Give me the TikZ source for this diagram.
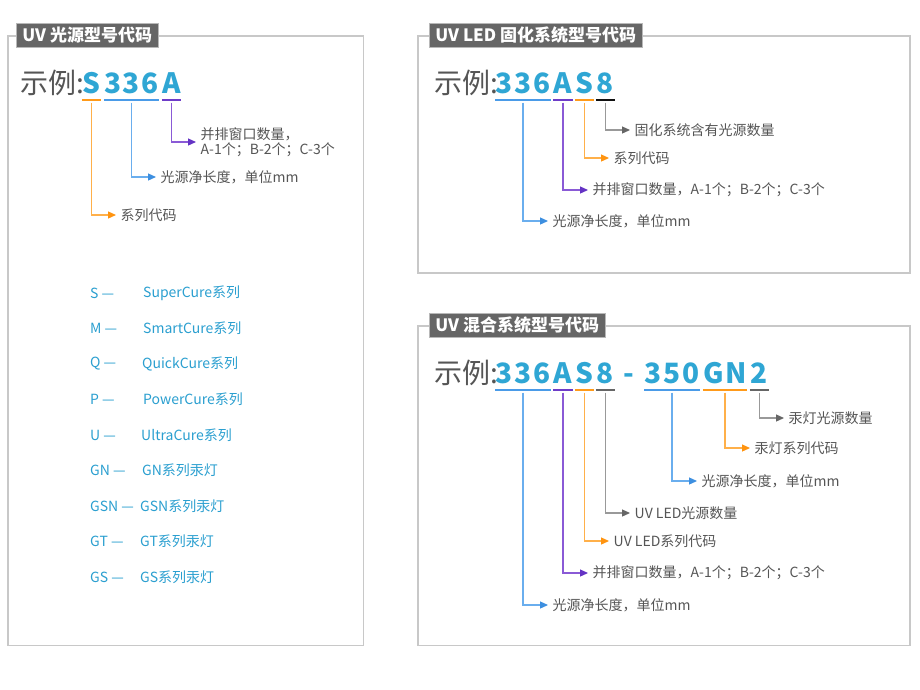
\documentclass[tikz,border=0pt]{standalone}
\usepackage{fontspec}
\setmainfont{Noto Sans CJK SC}
\usetikzlibrary{arrows.meta}
\definecolor{boxgray}{HTML}{C8C8C8}
\definecolor{tabgray}{HTML}{666666}
\definecolor{tabedge}{HTML}{B8B8B8}
\definecolor{exgray}{HTML}{555555}
\definecolor{lblgray}{HTML}{555555}
\definecolor{codeblue}{HTML}{2FA6D4}
\definecolor{legblue}{HTML}{2A9FD0}
\definecolor{ublue}{HTML}{4A9BE8}
\definecolor{lblue}{HTML}{6AAEEE}
\definecolor{ablue}{HTML}{3D8FE0}
\definecolor{upurple}{HTML}{6E3CC8}
\definecolor{lpurple}{HTML}{8A5AD6}
\definecolor{apurple}{HTML}{6433C4}
\definecolor{uorange}{HTML}{FF9A1A}
\definecolor{lorange}{HTML}{FFB04A}
\definecolor{aorange}{HTML}{FF9410}
\definecolor{ugray}{HTML}{666666}
\definecolor{lgray}{HTML}{999999}
\definecolor{agray}{HTML}{666666}
\definecolor{ublack}{HTML}{111111}
\newcommand{\lsp}{\kern1.8pt}
\begin{document}
\begin{tikzpicture}[x=1pt,y=-1pt,
  panelbox/.style={draw=boxgray, line width=1.2pt},
  tabnode/.style={fill=tabgray, draw=tabedge, line width=0.8pt, text=white,
    font=\fontsize{17}{17}\selectfont\bfseries, inner xsep=6pt, inner ysep=0pt,
    minimum height=24pt, anchor=west},
  exlbl/.style={text=exgray, font=\fontsize{28}{28}\selectfont, inner sep=0pt, anchor=base west},
  codegrp/.style={text=codeblue, font=\fontsize{28}{28}\selectfont\bfseries,
    inner xsep=0pt, inner ysep=0pt, text height=21pt, text depth=0pt,
    anchor=base, minimum width=#1},
  uline/.style={draw=#1, line width=1.6pt},
  lbl/.style={text=lblgray, font=\fontsize{14}{15}\selectfont, inner xsep=4.5pt,
    inner ysep=0pt, anchor=west, align=left},
  leg/.style={text=legblue, font=\fontsize{14}{14}\selectfont, inner sep=0pt, anchor=west},
  conn/.style 2 args={draw=#1, line width=1.2pt,
    -{Triangle[length=8pt,width=7pt,color=#2]}}
]
\useasboundingbox (0,0) rectangle (920,689);
\fill[white] (0,0) rectangle (920,689);

% ---------- panel frames ----------
\draw[panelbox] (8,36) rectangle (363.5,645.5);
\draw[panelbox] (418,36) rectangle (910,273);
\draw[panelbox] (418,326) rectangle (910,645.5);

\node[tabnode] (t1) at (16,35) {UV 光源型号代码};
\node[tabnode] (t2) at (429,35) {UV LED 固化系统型号代码};
\node[tabnode] (t3) at (429,325) {UV 混合系统型号代码};

% ---------- panel 1 ----------
\node[exlbl] (e1) at (20,93.5) {示例:};
\node[codegrp=19pt] (a1) at (91.5,93.5) {S};
\node[codegrp=53pt] (a2) at (131.5,93.5) {3\lsp 3\lsp 6};
\node[codegrp=19pt] (a3) at (171.5,93.5) {A};
\draw[uline=uorange] ([yshift=-6.5pt]a1.south west) -- ([yshift=-6.5pt]a1.south east);
\draw[uline=ublue] ([yshift=-6.5pt]a2.south west) -- ([yshift=-6.5pt]a2.south east);
\draw[uline=upurple] ([yshift=-6.5pt]a3.south west) -- ([yshift=-6.5pt]a3.south east);

\node[lbl] (al3) at (196,142) {并排窗口数量，\\A-1个；B-2个；C-3个};
\node[lbl] (al2) at (156,177) {光源净长度，单位mm};
\node[lbl] (al1) at (116,215) {系列代码};
\draw[conn={lpurple}{apurple}] ([yshift=-9pt]a3.south) |- (al3.west);
\draw[conn={lblue}{ablue}] ([yshift=-9pt]a2.south) |- (al2.west);
\draw[conn={lorange}{aorange}] ([yshift=-9pt]a1.south) |- (al1.west);

% legend
\node[leg] (k1) at (90,293) {S —};   \node[leg] (v1) at (143,293) {SuperCure系列};
\node[leg] (k2) at (90,328) {M —};   \node[leg] (v2) at (143,328) {SmartCure系列};
\node[leg] (k3) at (90,364) {Q —};   \node[leg] (v3) at (142,364) {QuickCure系列};
\node[leg] (k4) at (90,399) {P —};   \node[leg] (v4) at (143,399) {PowerCure系列};
\node[leg] (k5) at (90,435) {U —};   \node[leg] (v5) at (141,435) {UltraCure系列};
\node[leg] (k6) at (90,470) {GN —};  \node[leg] (v6) at (142,470) {GN系列汞灯};
\node[leg] (k7) at (90,506) {GSN —}; \node[leg] (v7) at (140,506) {GSN系列汞灯};
\node[leg] (k8) at (90,541) {GT —};  \node[leg] (v8) at (140,541) {GT系列汞灯};
\node[leg] (k9) at (90,577) {GS —};  \node[leg] (v9) at (140,577) {GS系列汞灯};

% ---------- panel 2 ----------
\node[exlbl] (e2) at (434,93.5) {示例:};
\node[codegrp=51.5pt] (b1) at (523,93.5) {3\lsp 3\lsp 6};
\node[codegrp=20pt] (b2) at (563,93.5) {A};
\node[codegrp=19pt] (b3) at (584.5,93.5) {S};
\node[codegrp=19pt] (b4) at (605.5,93.5) {8};
\draw[uline=ublue] ([yshift=-6.5pt]b1.south west) -- ([yshift=-6.5pt]b1.south east);
\draw[uline=upurple] ([yshift=-6.5pt]b2.south west) -- ([yshift=-6.5pt]b2.south east);
\draw[uline=uorange] ([yshift=-6.5pt]b3.south west) -- ([yshift=-6.5pt]b3.south east);
\draw[uline=ublack] ([yshift=-6.5pt]b4.south west) -- ([yshift=-6.5pt]b4.south east);

\node[lbl] (bl4) at (630,130) {固化系统含有光源数量};
\node[lbl] (bl3) at (609,158) {系列代码};
\node[lbl] (bl2) at (588,190) {并排窗口数量，A-1个；B-2个；C-3个};
\node[lbl] (bl1) at (548,221) {光源净长度，单位mm};
\draw[conn={lgray}{agray}] ([yshift=-9pt]b4.south) |- (bl4.west);
\draw[conn={lorange}{aorange}] ([yshift=-9pt]b3.south) |- (bl3.west);
\draw[conn={lpurple}{apurple}] ([yshift=-9pt]b2.south) |- (bl2.west);
\draw[conn={lblue}{ablue}] ([yshift=-9pt]b1.south) |- (bl1.west);

% ---------- panel 3 ----------
\node[exlbl] (e3) at (434,383.5) {示例:};
\node[codegrp=51.5pt] (c1) at (523,383.5) {3\lsp 3\lsp 6};
\node[codegrp=20pt] (c2) at (563,383.5) {A};
\node[codegrp=19pt] (c3) at (584.5,383.5) {S};
\node[codegrp=19pt] (c4) at (605.5,383.5) {8};
\node[codegrp=8pt] (cd) at (629,383.5) {-};
\node[codegrp=52pt] (c5) at (672,383.5) {3\lsp 5\lsp 0};
\node[codegrp=40pt] (c6) at (725,383.5) {G\lsp N};
\node[codegrp=19pt] (c7) at (759.5,383.5) {2};
\draw[uline=ublue] ([yshift=-6.5pt]c1.south west) -- ([yshift=-6.5pt]c1.south east);
\draw[uline=upurple] ([yshift=-6.5pt]c2.south west) -- ([yshift=-6.5pt]c2.south east);
\draw[uline=uorange] ([yshift=-6.5pt]c3.south west) -- ([yshift=-6.5pt]c3.south east);
\draw[uline=ugray] ([yshift=-6.5pt]c4.south west) -- ([yshift=-6.5pt]c4.south east);
\draw[uline=ublue] ([yshift=-6.5pt]c5.south west) -- ([yshift=-6.5pt]c5.south east);
\draw[uline=uorange] ([yshift=-6.5pt]c6.south west) -- ([yshift=-6.5pt]c6.south east);
\draw[uline=ugray] ([yshift=-6.5pt]c7.south west) -- ([yshift=-6.5pt]c7.south east);

\node[lbl] (cl7) at (784,418) {汞灯光源数量};
\node[lbl] (cl6) at (750,448) {汞灯系列代码};
\node[lbl] (cl5) at (697,481) {光源净长度，单位mm};
\node[lbl] (cl4) at (630,513) {UV LED光源数量};
\node[lbl] (cl3) at (609,541) {UV LED系列代码};
\node[lbl] (cl2) at (588,573) {并排窗口数量，A-1个；B-2个；C-3个};
\node[lbl] (cl1) at (548,605) {光源净长度，单位mm};
\draw[conn={lgray}{agray}] ([yshift=-9pt]c7.south) |- (cl7.west);
\draw[conn={lorange}{aorange}] ([yshift=-9pt]c6.south) |- (cl6.west);
\draw[conn={lblue}{ablue}] ([yshift=-9pt]c5.south) |- (cl5.west);
\draw[conn={lgray}{agray}] ([yshift=-9pt]c4.south) |- (cl4.west);
\draw[conn={lorange}{aorange}] ([yshift=-9pt]c3.south) |- (cl3.west);
\draw[conn={lpurple}{apurple}] ([yshift=-9pt]c2.south) |- (cl2.west);
\draw[conn={lblue}{ablue}] ([yshift=-9pt]c1.south) |- (cl1.west);
\end{tikzpicture}
\end{document}
